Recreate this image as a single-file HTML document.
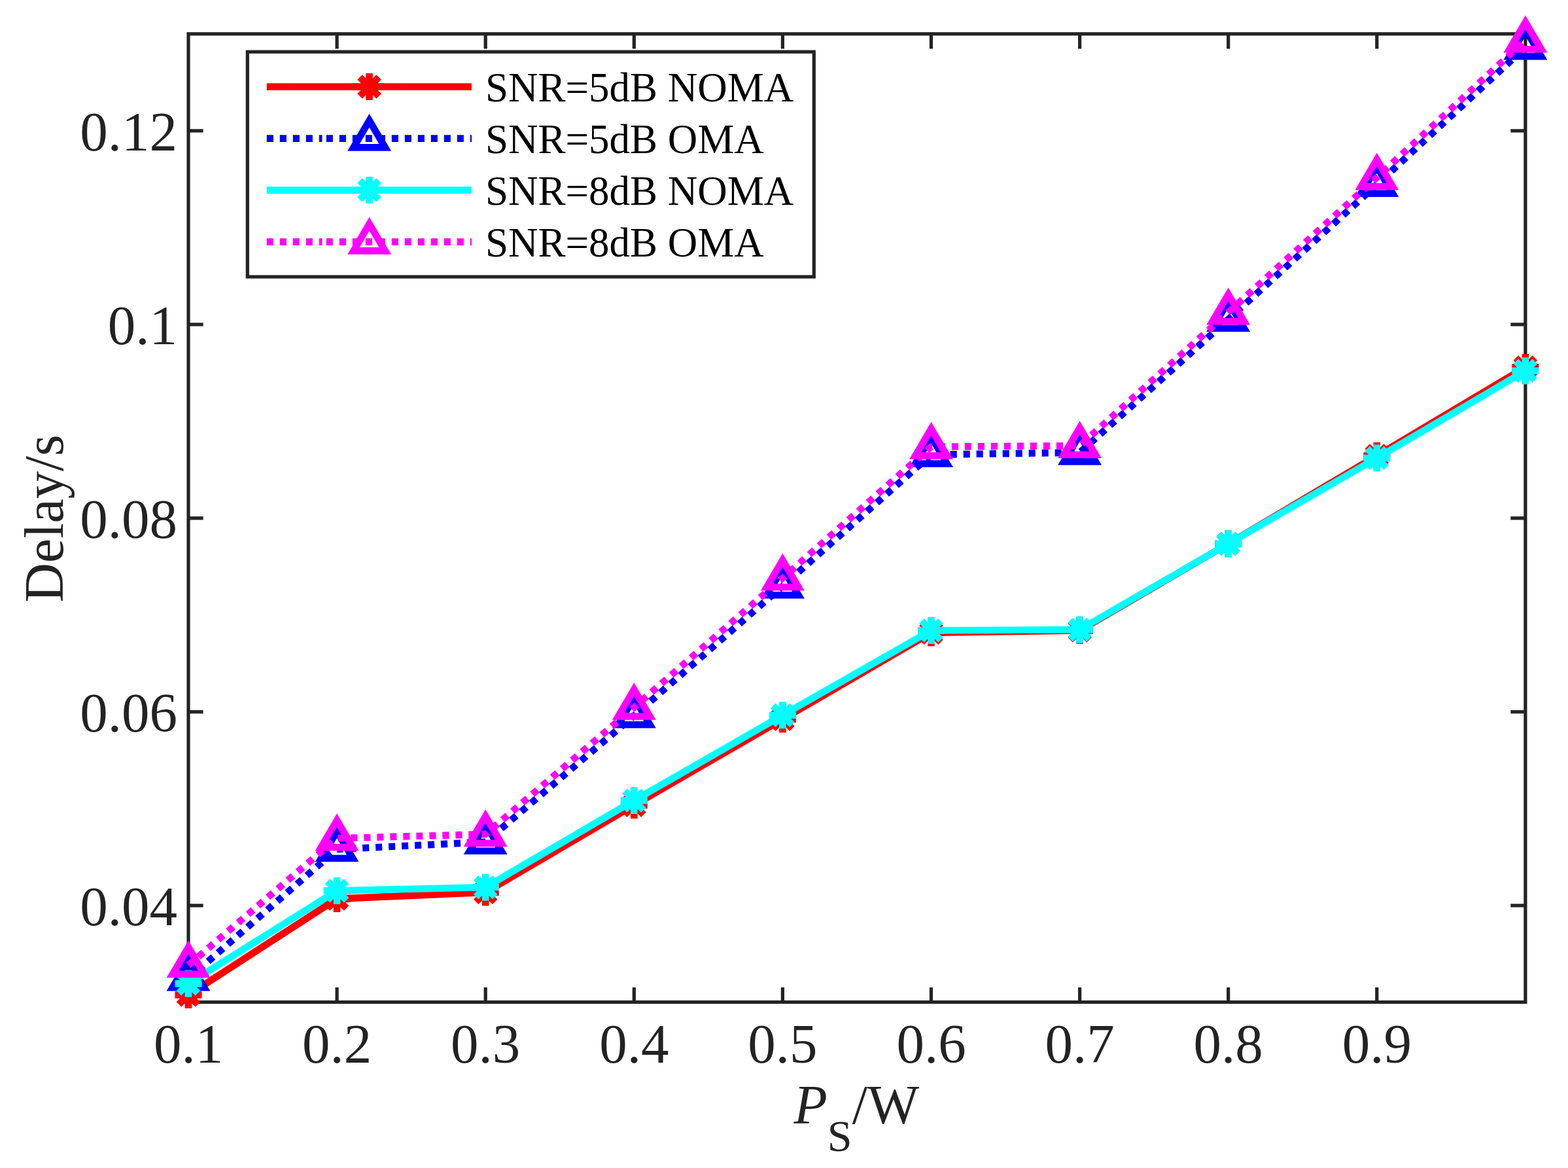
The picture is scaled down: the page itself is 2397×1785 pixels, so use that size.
<!DOCTYPE html>
<html><head><meta charset="utf-8"><title>Delay vs P_S</title>
<style>html,body{margin:0;padding:0;background:#fff;overflow:hidden}svg{display:block}</style>
</head><body>
<svg width="2397" height="1785" viewBox="0 0 2397 1785">
<rect width="2397" height="1785" fill="#fff"/>
<path d="M515.10 1531.50V1508.90M515.10 51.80V74.40M742.20 1531.50V1508.90M742.20 51.80V74.40M969.30 1531.50V1508.90M969.30 51.80V74.40M1196.40 1531.50V1508.90M1196.40 51.80V74.40M1423.50 1531.50V1508.90M1423.50 51.80V74.40M1650.60 1531.50V1508.90M1650.60 51.80V74.40M1877.70 1531.50V1508.90M1877.70 51.80V74.40M2104.80 1531.50V1508.90M2104.80 51.80V74.40M288.00 1383.88H310.60M2331.90 1383.88H2309.30M288.00 1087.86H310.60M2331.90 1087.86H2309.30M288.00 791.84H310.60M2331.90 791.84H2309.30M288.00 495.82H310.60M2331.90 495.82H2309.30M288.00 199.80H310.60M2331.90 199.80H2309.30" stroke="#232323" stroke-width="5.2" fill="none"/><rect x="288.0" y="51.8" width="2043.90" height="1479.70" stroke="#232323" stroke-width="5.2" fill="none"/>
<g font-family="Liberation Serif, serif" font-size="85" fill="#232323"><text x="288.00" y="1623.8" text-anchor="middle">0.1</text><text x="515.10" y="1623.8" text-anchor="middle">0.2</text><text x="742.20" y="1623.8" text-anchor="middle">0.3</text><text x="969.30" y="1623.8" text-anchor="middle">0.4</text><text x="1196.40" y="1623.8" text-anchor="middle">0.5</text><text x="1423.50" y="1623.8" text-anchor="middle">0.6</text><text x="1650.60" y="1623.8" text-anchor="middle">0.7</text><text x="1877.70" y="1623.8" text-anchor="middle">0.8</text><text x="2104.80" y="1623.8" text-anchor="middle">0.9</text><text x="271" y="1414.48" text-anchor="end">0.04</text><text x="271" y="1118.46" text-anchor="end">0.06</text><text x="271" y="822.44" text-anchor="end">0.08</text><text x="271" y="526.42" text-anchor="end">0.1</text><text x="271" y="230.40" text-anchor="end">0.12</text></g>
<text transform="translate(96.2 792.5) rotate(-90)" text-anchor="middle" font-family="Liberation Serif, serif" font-size="84" fill="#232323">Delay/s</text>
<text x="1213.5" y="1717.3" font-family="Liberation Serif, serif" font-size="84" fill="#232323"><tspan font-style="italic">P</tspan><tspan font-size="68" dy="42">S</tspan><tspan dy="-42">/W</tspan></text>
<path d="M288.00 1520.50L515.10 1373.60L742.20 1363.80L969.30 1230.50L1196.40 1099.10L1423.50 966.90L1650.60 963.50L1877.70 831.00L2104.80 696.60L2331.90 561.40" stroke="#ff0000" stroke-width="10.6" fill="none" stroke-linejoin="miter"/>
<path d="M288.00 1500.00V1541.00M267.50 1520.50H308.50M273.50 1506.00L302.50 1535.00M273.50 1535.00L302.50 1506.00" stroke="#ff0000" stroke-width="10.6" fill="none"/>
<path d="M515.10 1353.10V1394.10M494.60 1373.60H535.60M500.60 1359.10L529.60 1388.10M500.60 1388.10L529.60 1359.10" stroke="#ff0000" stroke-width="10.6" fill="none"/>
<path d="M742.20 1343.30V1384.30M721.70 1363.80H762.70M727.70 1349.30L756.70 1378.30M727.70 1378.30L756.70 1349.30" stroke="#ff0000" stroke-width="10.6" fill="none"/>
<path d="M969.30 1210.00V1251.00M948.80 1230.50H989.80M954.80 1216.00L983.80 1245.00M954.80 1245.00L983.80 1216.00" stroke="#ff0000" stroke-width="10.6" fill="none"/>
<path d="M1196.40 1078.60V1119.60M1175.90 1099.10H1216.90M1181.90 1084.60L1210.90 1113.60M1181.90 1113.60L1210.90 1084.60" stroke="#ff0000" stroke-width="10.6" fill="none"/>
<path d="M1423.50 946.40V987.40M1403.00 966.90H1444.00M1409.00 952.40L1438.00 981.40M1409.00 981.40L1438.00 952.40" stroke="#ff0000" stroke-width="10.6" fill="none"/>
<path d="M1650.60 943.00V984.00M1630.10 963.50H1671.10M1636.10 949.00L1665.10 978.00M1636.10 978.00L1665.10 949.00" stroke="#ff0000" stroke-width="10.6" fill="none"/>
<path d="M1877.70 810.50V851.50M1857.20 831.00H1898.20M1863.20 816.50L1892.20 845.50M1863.20 845.50L1892.20 816.50" stroke="#ff0000" stroke-width="10.6" fill="none"/>
<path d="M2104.80 676.10V717.10M2084.30 696.60H2125.30M2090.30 682.10L2119.30 711.10M2090.30 711.10L2119.30 682.10" stroke="#ff0000" stroke-width="10.6" fill="none"/>
<path d="M2331.90 540.90V581.90M2311.40 561.40H2352.40M2317.40 546.90L2346.40 575.90M2317.40 575.90L2346.40 546.90" stroke="#ff0000" stroke-width="10.6" fill="none"/>
<path d="M288.00 1495.40L515.10 1298.00L742.20 1286.70L969.30 1093.70L1196.40 895.70L1423.50 694.80L1650.60 691.60L1877.70 488.00L2104.80 282.00L2331.90 72.30" stroke="#0000ff" stroke-width="10.6" fill="none" stroke-dasharray="10.1 9.9"/>
<path d="M288.00 1468.00L312.20 1509.20L263.80 1509.20Z" stroke="#0000ff" stroke-width="10.6" fill="none" stroke-miterlimit="10"/>
<path d="M515.10 1270.60L539.30 1311.80L490.90 1311.80Z" stroke="#0000ff" stroke-width="10.6" fill="none" stroke-miterlimit="10"/>
<path d="M742.20 1259.30L766.40 1300.50L718.00 1300.50Z" stroke="#0000ff" stroke-width="10.6" fill="none" stroke-miterlimit="10"/>
<path d="M969.30 1066.30L993.50 1107.50L945.10 1107.50Z" stroke="#0000ff" stroke-width="10.6" fill="none" stroke-miterlimit="10"/>
<path d="M1196.40 868.30L1220.60 909.50L1172.20 909.50Z" stroke="#0000ff" stroke-width="10.6" fill="none" stroke-miterlimit="10"/>
<path d="M1423.50 667.40L1447.70 708.60L1399.30 708.60Z" stroke="#0000ff" stroke-width="10.6" fill="none" stroke-miterlimit="10"/>
<path d="M1650.60 664.20L1674.80 705.40L1626.40 705.40Z" stroke="#0000ff" stroke-width="10.6" fill="none" stroke-miterlimit="10"/>
<path d="M1877.70 460.60L1901.90 501.80L1853.50 501.80Z" stroke="#0000ff" stroke-width="10.6" fill="none" stroke-miterlimit="10"/>
<path d="M2104.80 254.60L2129.00 295.80L2080.60 295.80Z" stroke="#0000ff" stroke-width="10.6" fill="none" stroke-miterlimit="10"/>
<path d="M2331.90 44.90L2356.10 86.10L2307.70 86.10Z" stroke="#0000ff" stroke-width="10.6" fill="none" stroke-miterlimit="10"/>
<path d="M288.00 1503.20L515.10 1361.20L742.20 1356.00L969.30 1223.40L1196.40 1093.00L1423.50 963.50L1650.60 962.30L1877.70 831.00L2104.80 700.00L2331.90 566.80" stroke="#00ffff" stroke-width="10.6" fill="none" stroke-linejoin="miter"/>
<path d="M288.00 1482.70V1523.70M267.50 1503.20H308.50M273.50 1488.70L302.50 1517.70M273.50 1517.70L302.50 1488.70" stroke="#00ffff" stroke-width="10.6" fill="none"/>
<path d="M515.10 1340.70V1381.70M494.60 1361.20H535.60M500.60 1346.70L529.60 1375.70M500.60 1375.70L529.60 1346.70" stroke="#00ffff" stroke-width="10.6" fill="none"/>
<path d="M742.20 1335.50V1376.50M721.70 1356.00H762.70M727.70 1341.50L756.70 1370.50M727.70 1370.50L756.70 1341.50" stroke="#00ffff" stroke-width="10.6" fill="none"/>
<path d="M969.30 1202.90V1243.90M948.80 1223.40H989.80M954.80 1208.90L983.80 1237.90M954.80 1237.90L983.80 1208.90" stroke="#00ffff" stroke-width="10.6" fill="none"/>
<path d="M1196.40 1072.50V1113.50M1175.90 1093.00H1216.90M1181.90 1078.50L1210.90 1107.50M1181.90 1107.50L1210.90 1078.50" stroke="#00ffff" stroke-width="10.6" fill="none"/>
<path d="M1423.50 943.00V984.00M1403.00 963.50H1444.00M1409.00 949.00L1438.00 978.00M1409.00 978.00L1438.00 949.00" stroke="#00ffff" stroke-width="10.6" fill="none"/>
<path d="M1650.60 941.80V982.80M1630.10 962.30H1671.10M1636.10 947.80L1665.10 976.80M1636.10 976.80L1665.10 947.80" stroke="#00ffff" stroke-width="10.6" fill="none"/>
<path d="M1877.70 810.50V851.50M1857.20 831.00H1898.20M1863.20 816.50L1892.20 845.50M1863.20 845.50L1892.20 816.50" stroke="#00ffff" stroke-width="10.6" fill="none"/>
<path d="M2104.80 679.50V720.50M2084.30 700.00H2125.30M2090.30 685.50L2119.30 714.50M2090.30 714.50L2119.30 685.50" stroke="#00ffff" stroke-width="10.6" fill="none"/>
<path d="M2331.90 546.30V587.30M2311.40 566.80H2352.40M2317.40 552.30L2346.40 581.30M2317.40 581.30L2346.40 552.30" stroke="#00ffff" stroke-width="10.6" fill="none"/>
<path d="M288.00 1475.10L515.10 1281.10L742.20 1274.90L969.30 1081.10L1196.40 883.50L1423.50 682.70L1650.60 681.20L1877.70 477.30L2104.80 271.30L2331.90 61.45" stroke="#ff00ff" stroke-width="10.6" fill="none" stroke-dasharray="10.1 9.9"/>
<path d="M288.00 1447.70L312.20 1488.90L263.80 1488.90Z" stroke="#ff00ff" stroke-width="10.6" fill="none" stroke-miterlimit="10"/>
<path d="M515.10 1253.70L539.30 1294.90L490.90 1294.90Z" stroke="#ff00ff" stroke-width="10.6" fill="none" stroke-miterlimit="10"/>
<path d="M742.20 1247.50L766.40 1288.70L718.00 1288.70Z" stroke="#ff00ff" stroke-width="10.6" fill="none" stroke-miterlimit="10"/>
<path d="M969.30 1053.70L993.50 1094.90L945.10 1094.90Z" stroke="#ff00ff" stroke-width="10.6" fill="none" stroke-miterlimit="10"/>
<path d="M1196.40 856.10L1220.60 897.30L1172.20 897.30Z" stroke="#ff00ff" stroke-width="10.6" fill="none" stroke-miterlimit="10"/>
<path d="M1423.50 655.30L1447.70 696.50L1399.30 696.50Z" stroke="#ff00ff" stroke-width="10.6" fill="none" stroke-miterlimit="10"/>
<path d="M1650.60 653.80L1674.80 695.00L1626.40 695.00Z" stroke="#ff00ff" stroke-width="10.6" fill="none" stroke-miterlimit="10"/>
<path d="M1877.70 449.90L1901.90 491.10L1853.50 491.10Z" stroke="#ff00ff" stroke-width="10.6" fill="none" stroke-miterlimit="10"/>
<path d="M2104.80 243.90L2129.00 285.10L2080.60 285.10Z" stroke="#ff00ff" stroke-width="10.6" fill="none" stroke-miterlimit="10"/>
<path d="M2331.90 34.05L2356.10 75.25L2307.70 75.25Z" stroke="#ff00ff" stroke-width="10.6" fill="none" stroke-miterlimit="10"/>
<rect x="378.3" y="79.2" width="866.00" height="343.80" fill="#fff" stroke="#232323" stroke-width="5.2"/><path d="M407.8 132.60H721" stroke="#ff0000" stroke-width="10.6"/><path d="M564.60 112.10V153.10M544.10 132.60H585.10M550.10 118.10L579.10 147.10M550.10 147.10L579.10 118.10" stroke="#ff0000" stroke-width="10.6" fill="none"/><text x="742" y="154.80" font-family="Liberation Serif, serif" font-size="63" fill="#000">SNR=5dB NOMA</text><path d="M407.8 211.60H492.5M498.8 211.60H721" stroke="#0000ff" stroke-width="10.6" stroke-dasharray="10.1 9.9"/><path d="M564.60 184.20L588.80 225.40L540.40 225.40Z" stroke="#0000ff" stroke-width="10.6" fill="none" stroke-miterlimit="10"/><text x="742" y="233.90" font-family="Liberation Serif, serif" font-size="63" fill="#000">SNR=5dB OMA</text><path d="M407.8 290.60H721" stroke="#00ffff" stroke-width="10.6"/><path d="M564.60 270.10V311.10M544.10 290.60H585.10M550.10 276.10L579.10 305.10M550.10 305.10L579.10 276.10" stroke="#00ffff" stroke-width="10.6" fill="none"/><text x="742" y="313.00" font-family="Liberation Serif, serif" font-size="63" fill="#000">SNR=8dB NOMA</text><path d="M407.8 369.60H492.5M498.8 369.60H721" stroke="#ff00ff" stroke-width="10.6" stroke-dasharray="10.1 9.9"/><path d="M564.60 342.20L588.80 383.40L540.40 383.40Z" stroke="#ff00ff" stroke-width="10.6" fill="none" stroke-miterlimit="10"/><text x="742" y="392.10" font-family="Liberation Serif, serif" font-size="63" fill="#000">SNR=8dB OMA</text>
</svg>
</body></html>
